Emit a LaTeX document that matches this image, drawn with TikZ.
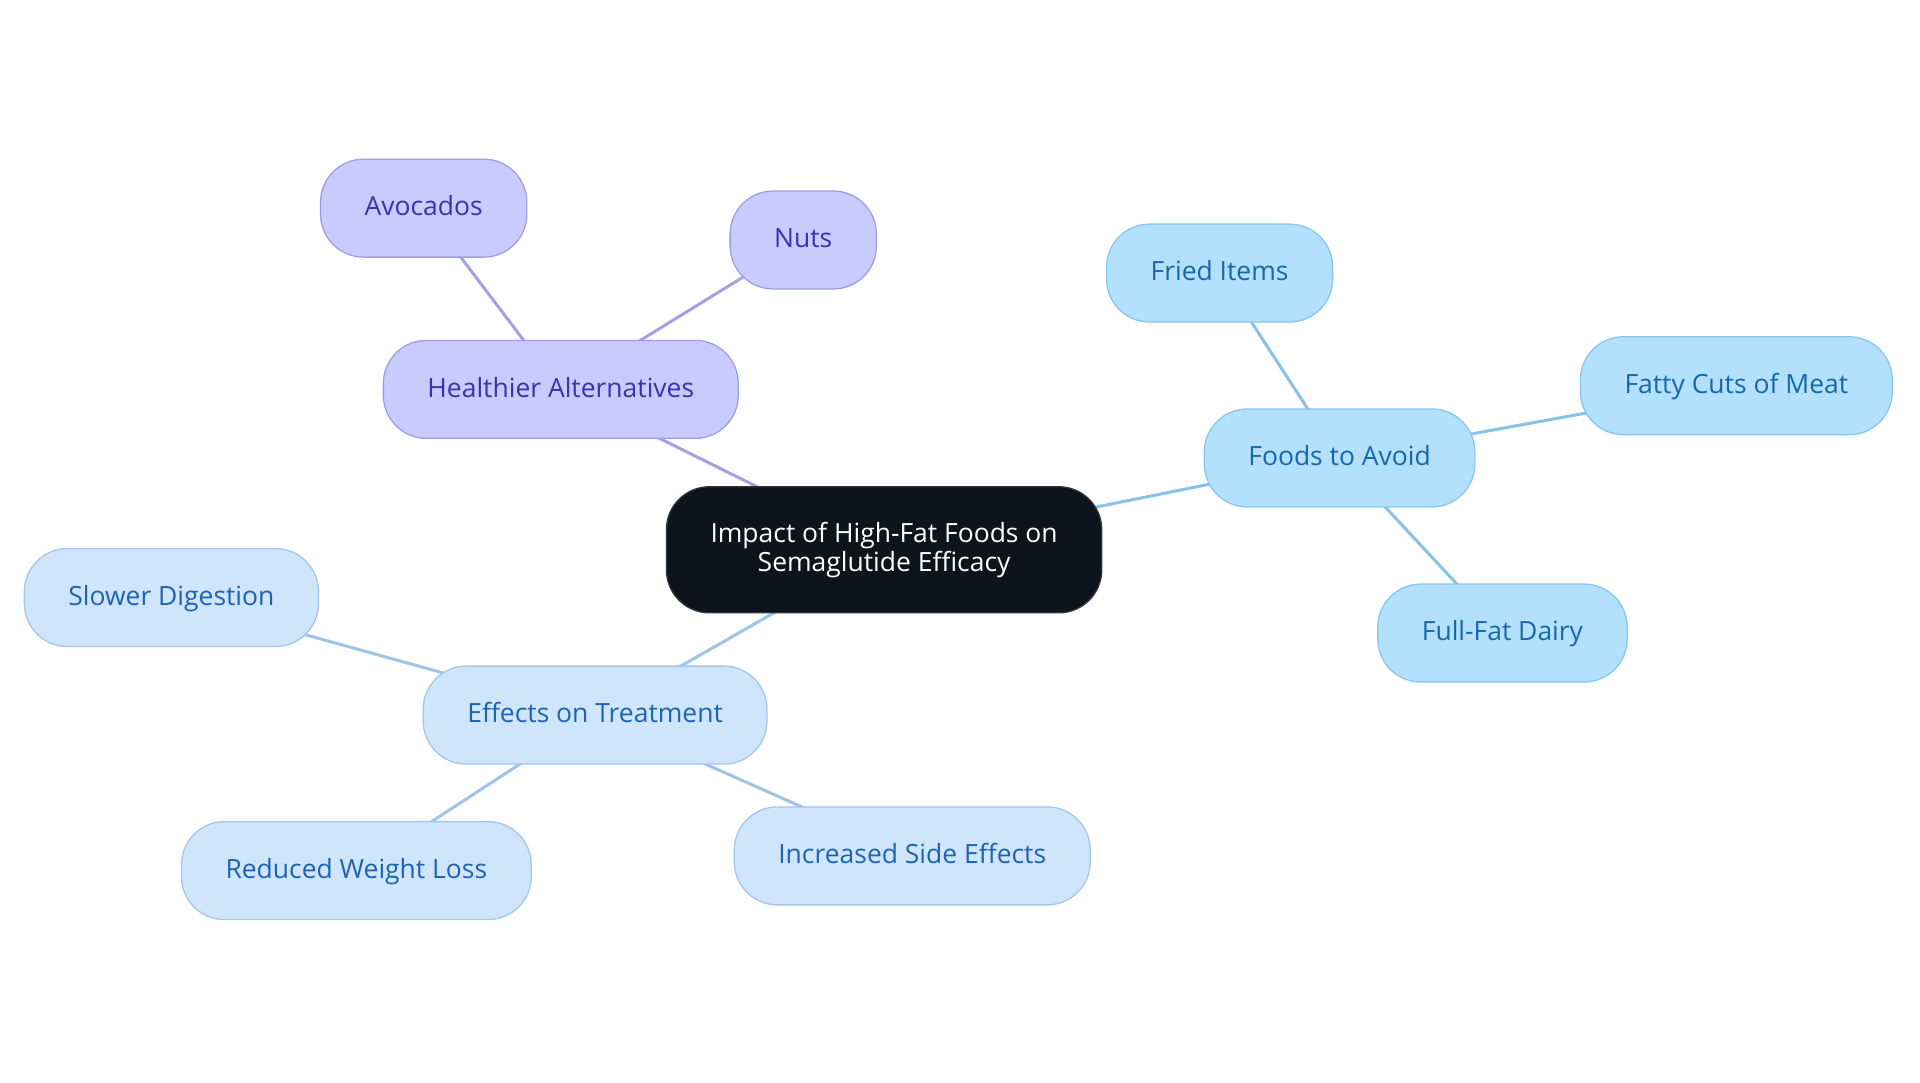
\documentclass[tikz,border=0pt]{standalone}
\usepackage{fontspec}
\setmainfont{Open Sans}
\usetikzlibrary{backgrounds}

\definecolor{altfill}{HTML}{C8CBFD}
\definecolor{altline}{HTML}{9D9EE6}
\definecolor{alttext}{HTML}{3535AE}
\definecolor{altedge}{HTML}{A3A0E6}
\definecolor{avoidfill}{HTML}{B3E0FC}
\definecolor{avoidline}{HTML}{88C6EE}
\definecolor{avoidtext}{HTML}{1668AC}
\definecolor{avoidedge}{HTML}{88C2E8}
\definecolor{efffill}{HTML}{CFE5FC}
\definecolor{effline}{HTML}{A3C6EE}
\definecolor{efftext}{HTML}{1E63B4}
\definecolor{effedge}{HTML}{A0C3EA}
\definecolor{mainfill}{HTML}{0D141C}
\definecolor{mainline}{HTML}{30353C}

\begin{document}
\begin{tikzpicture}[x=0.02cm, y=-0.02cm,
    topic/.style={draw, rounded corners=20pt, line width=0.6pt, minimum height=1.6cm,
      inner xsep=0.72cm, text height=1.34ex, text depth=0pt,
      font=\fontsize{12.3}{14}\selectfont},
    alt/.style={topic, fill=altfill, draw=altline, text=alttext},
    avoid/.style={topic, fill=avoidfill, draw=avoidline, text=avoidtext},
    eff/.style={topic, fill=efffill, draw=effline, text=efftext},
    root/.style={draw=mainline, fill=mainfill, text=white, rounded corners=20pt,
      line width=0.6pt, minimum height=2.06cm, inner xsep=0.72cm, align=center,
      font=\fontsize{12.3}{13.6}\selectfont},
    link/.style={line width=1.4pt, line cap=round}]

    \useasboundingbox (0,0) rectangle (1568,884);

    \node[root] (impact) at (722,449) {Impact of High-Fat Foods on\\Semaglutide Efficacy};

    \node[alt] (healthier) at (458,318) {Healthier Alternatives};
    \node[alt] (avocados) at (346,170) {Avocados};
    \node[alt] (nuts) at (656,196) {Nuts};

    \node[avoid] (avoid) at (1094,374) {Foods to Avoid};
    \node[avoid] (fried) at (996,223) {Fried Items};
    \node[avoid] (fatty) at (1418,315) {Fatty Cuts of Meat};
    \node[avoid] (dairy) at (1227,517) {Full-Fat Dairy};

    \node[eff] (effects) at (486,584) {Effects on Treatment};
    \node[eff] (slower) at (140,488) {Slower Digestion};
    \node[eff] (reduced) at (291,711) {Reduced Weight Loss};
    \node[eff] (increased) at (745,699) {Increased Side Effects};

    \begin{scope}[on background layer]
        \foreach \a/\b/\c in {impact/healthier/altedge, healthier/avocados/altedge, healthier/nuts/altedge,
            impact/avoid/avoidedge, avoid/fried/avoidedge, avoid/fatty/avoidedge, avoid/dairy/avoidedge,
            impact/effects/effedge, effects/slower/effedge, effects/reduced/effedge, effects/increased/effedge} {
            \draw[link, draw=\c] (\a.center) -- (\b.center);
        }
    \end{scope}
\end{tikzpicture}
\end{document}
